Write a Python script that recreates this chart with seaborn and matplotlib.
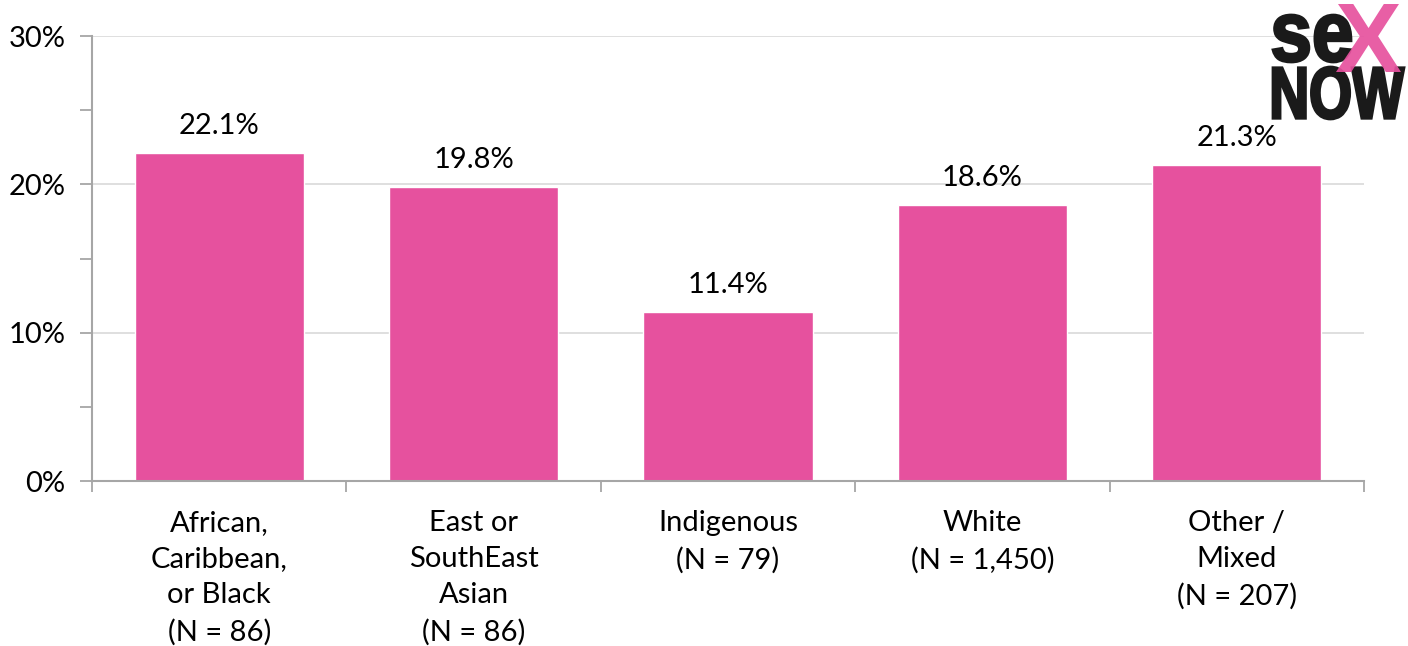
import matplotlib
matplotlib.use("Agg")
import matplotlib.pyplot as plt
import seaborn as sns
import pandas as pd
from matplotlib.ticker import MultipleLocator, FixedLocator, NullFormatter
from matplotlib.textpath import TextPath
from matplotlib.patches import PathPatch
from matplotlib.font_manager import FontProperties
from matplotlib.transforms import Affine2D, IdentityTransform

categories = ["African,\nCaribbean,\nor Black\n(N = 86)",
              "East or\nSouthEast\nAsian\n(N = 86)",
              "Indigenous\n(N = 79)",
              "White\n(N = 1,450)",
              "Other /\nMixed\n(N = 207)"]
values = [22.1, 19.8, 11.4, 18.6, 21.3]
value_labels = ["22.1%", "19.8%", "11.4%", "18.6%", "21.3%"]
y_ticks = [0, 10, 20, 30]
y_tick_labels = ["0%", "10%", "20%", "30%"]

sns.set_theme(style="white")
plt.rcParams['font.family'] = ['Lato', 'DejaVu Sans']

PINK = "#E6519E"
AXC = "#A6A6A6"
FS = 21
W, H = 1408, 646

fig = plt.figure(figsize=(W/100, H/100), dpi=100)
ax = fig.add_axes([92/W, 1-481/H, (1364-92)/W, (481-36)/H])

df = pd.DataFrame({"cat": categories, "val": values})
sns.barplot(data=df, x="cat", y="val", color=PINK, width=0.665, saturation=1, ax=ax)

ax.set_ylim(0, 30)
ax.set_xlim(-0.5, 4.5)
ax.set_xlabel("")
ax.set_ylabel("")

ax.yaxis.set_major_locator(FixedLocator(y_ticks))
ax.set_yticklabels(y_tick_labels, fontsize=FS, color="black")
ax.yaxis.set_minor_locator(MultipleLocator(5))
ax.tick_params(axis="y", which="both", direction="out", length=9, width=1.3, color=AXC, left=True, pad=10)
ax.grid(axis="y", which="major", color="#D9D9D9", linewidth=1.2)
ax.set_axisbelow(True)

ax.set_xticks([i for i in range(len(categories))])
ax.set_xticklabels(categories, fontsize=FS, color="black", linespacing=1.48)
ax.tick_params(axis="x", which="major", length=0, pad=21)
ax.xaxis.set_minor_locator(FixedLocator([i - 0.5 for i in range(len(categories) + 1)]))
ax.xaxis.set_minor_formatter(NullFormatter())
ax.tick_params(axis="x", which="minor", direction="out", length=8, width=1.3, color=AXC, bottom=True)

for s in ["top", "right"]:
    ax.spines[s].set_visible(False)
for s in ["left", "bottom"]:
    ax.spines[s].set_color(AXC)
    ax.spines[s].set_linewidth(1.5)

for i, (v, lab) in enumerate(zip(values, value_labels)):
    ax.annotate(lab, (i, v), xytext=(0, 10), textcoords="offset points",
                ha="center", va="bottom", fontsize=FS, color="black")

# logo: text paths fitted into pixel boxes (top-left origin)
logo_fp = FontProperties(family="Liberation Sans", weight="bold")

def fit_text(txt, x0, y0, x1, y1, color, alpha=1.0, z=5, stroke=0.0):
    tp = TextPath((0, 0), txt, size=100, prop=logo_fp)
    ext = tp.get_extents()
    sx = (x1 - x0) / ext.width
    sy = (y1 - y0) / ext.height
    tr = Affine2D().translate(-ext.x0, -ext.y0).scale(sx, sy).translate(x0, H - y1)
    patch = PathPatch(tp, transform=tr + IdentityTransform(), facecolor=color,
                      edgecolor=color if stroke else "none", linewidth=stroke,
                      alpha=alpha, zorder=z)
    fig.patches.append(patch)
    patch.set_figure(fig)

fit_text("se", 1273, 15, 1351, 62, "#1a1a1a", stroke=2.0)
fit_text("X", 1336, 4, 1401, 72, PINK, alpha=0.92, z=6)
fit_text("NOW", 1273, 67, 1404, 119, "#1a1a1a", stroke=2.0)

fig.savefig("out.png", dpi=100)
